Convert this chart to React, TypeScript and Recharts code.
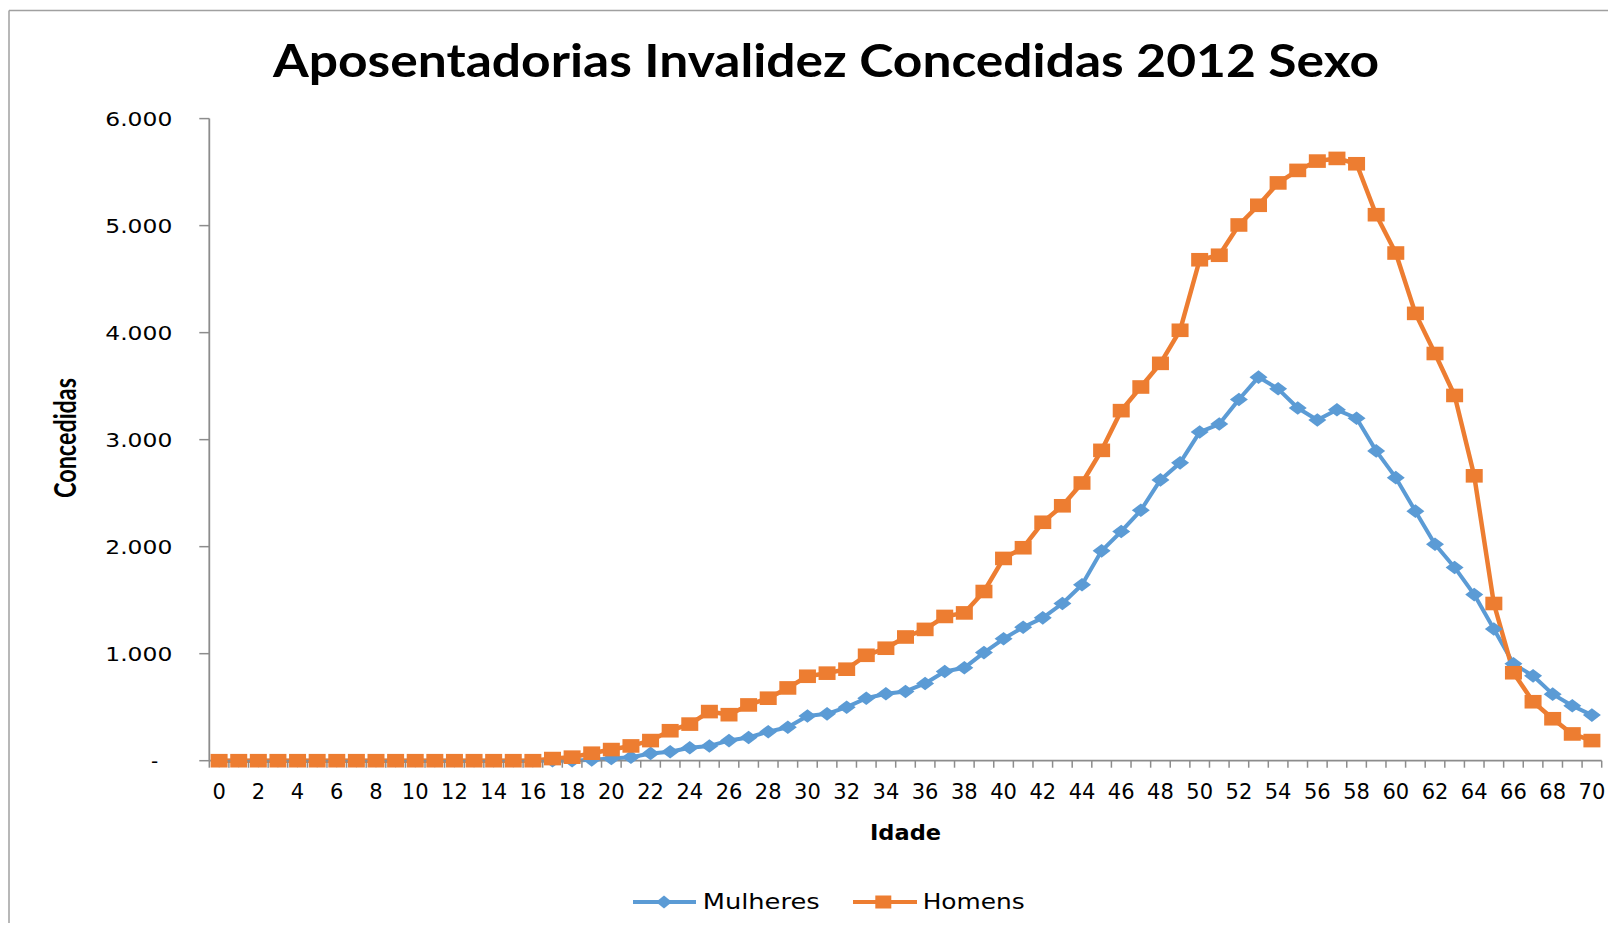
import React from 'react';
import { LineChart, Line, XAxis, YAxis } from 'recharts';

const AGES: number[] = Array.from({ length: 71 }, (_, i) => i);

const MULHERES: number[] = [
  0, 0, 0, 0, 0, 0, 0, 0, 0, 0,
  0, 0, 0, 0, 0, 0, 0, 0, 0, 8,
  20, 33, 68, 83, 121, 138, 188, 217, 271, 313,
  417, 438, 500, 584, 626, 647, 722, 834, 868, 1010,
  1139, 1247, 1335, 1469, 1644, 1961, 2142, 2340, 2624, 2783,
  3071, 3146, 3375, 3584, 3475, 3296, 3183, 3279, 3200, 2895,
  2645, 2332, 2023, 1806, 1552, 1231, 905, 793, 622, 513,
  426,
];

const HOMENS: number[] = [
  0, 0, 0, 0, 0, 0, 0, 0, 0, 0,
  0, 0, 0, 0, 0, 0, 0, 20, 33, 70,
  104, 138, 188, 280, 342, 459, 430, 521, 584, 680,
  789, 818, 855, 985, 1051, 1156, 1227, 1348, 1381, 1581,
  1890, 1990, 2228, 2382, 2595, 2900, 3271, 3492, 3713, 4022,
  4681, 4723, 5006, 5190, 5399, 5516, 5603, 5628, 5578, 5102,
  4744, 4180, 3805, 3413, 2662, 1469, 822, 551, 392, 250,
  188,
];

const Y_TICKS: number[] = [0, 1000, 2000, 3000, 4000, 5000, 6000];

const TITLE = 'Aposentadorias Invalidez Concedidas 2012 Sexo';
const X_LABEL = 'Idade';
const Y_LABEL = 'Concedidas';
const SERIES_NAMES = ['Mulheres', 'Homens'];

const BLUE = '#5B9BD5';
const ORANGE = '#ED7D31';
const AXIS = '#8c8c8c';

const data = AGES.map((a, i) => ({ age: a, mulheres: MULHERES[i], homens: HOMENS[i] }));

const W = 1600;
const H = 915;
const OVERLAY_H = 925;
const PLOT_LEFT = 201.3;
const PLOT_RIGHT = 1593.7;
const PLOT_TOP = 110.6;
const PLOT_BOTTOM = 752.7;
const BAND = (PLOT_RIGHT - PLOT_LEFT) / AGES.length;

const fmt = (v: number) => (v === 0 ? '-' : v.toLocaleString('de-DE'));

const XTick = (props: any) => {
  const { x, y, payload } = props;
  const index = props.index ?? payload.index;
  const half = BAND / 2;
  return (
    <g>
      <line x1={x - half} x2={x - half} y1={y} y2={y + 7} stroke={AXIS} strokeWidth={1.5} />
      {index === AGES.length - 1 && (
        <line x1={x + half} x2={x + half} y1={y} y2={y + 7} stroke={AXIS} strokeWidth={1.5} />
      )}
      {index % 2 === 0 && (
        <text x={x} y={y + 38} textAnchor="middle" fontFamily="DejaVu Sans" fontSize={21} fill="#000">
          {payload.value}
        </text>
      )}
    </g>
  );
};

const YTick = (props: any) => {
  const { x, y, payload } = props;
  const label = fmt(payload.value);
  if (payload.value === 0) {
    return (
      <text x={x - 14} y={y + 7} textAnchor="end" fontFamily="DejaVu Sans" fontSize={20} fill="#000">
        {label}
      </text>
    );
  }
  return (
    <text
      x={x}
      y={y + 7}
      textAnchor="end"
      fontFamily="DejaVu Sans"
      fontSize={20}
      fill="#000"
      textLength={67}
      lengthAdjust="spacingAndGlyphs"
    >
      {label}
    </text>
  );
};

const Square = (props: any) => {
  const { cx, cy, index } = props;
  if (cx == null || cy == null) return <g key={`s${index}`} />;
  return <rect key={`s${index}`} x={cx - 8.5} y={cy - 6.8} width={17} height={13.6} fill={ORANGE} />;
};

const Diamond = (props: any) => {
  const { cx, cy, index } = props;
  if (cx == null || cy == null) return <g key={`d${index}`} />;
  const w = 9, h = 6.8;
  return (
    <polygon
      key={`d${index}`}
      points={`${cx - w},${cy} ${cx},${cy - h} ${cx + w},${cy} ${cx},${cy + h}`}
      fill={BLUE}
    />
  );
};

export default function App() {
  return (
    <div style={{ position: 'relative', width: W, height: H }}>
      <style>{`html, body { overflow: hidden; }`}</style>
      <LineChart
        width={W}
        height={H}
        data={data}
        margin={{ top: PLOT_TOP, right: W - PLOT_RIGHT, left: 0, bottom: H - PLOT_BOTTOM - 30 }}
      >
        <XAxis
          dataKey="age"
          type="category"
          interval={0}
          height={30}
          padding={{ left: BAND / 2, right: BAND / 2 }}
          axisLine={{ stroke: AXIS, strokeWidth: 1.8 }}
          tickLine={false}
          tickSize={0}
          tickMargin={0}
          tick={<XTick />}
        />
        <YAxis
          width={PLOT_LEFT}
          domain={[0, 6000]}
          ticks={Y_TICKS}
          interval={0}
          axisLine={{ stroke: AXIS, strokeWidth: 1.8 }}
          tickLine={{ stroke: AXIS, strokeWidth: 1.5 }}
          tickSize={10}
          tickMargin={27}
          tick={<YTick />}
        />
        <Line
          type="linear"
          dataKey="mulheres"
          name={SERIES_NAMES[0]}
          stroke={BLUE}
          strokeWidth={4}
          strokeLinejoin="round"
          dot={Diamond}
          activeDot={false}
          isAnimationActive={false}
        />
        <Line
          type="linear"
          dataKey="homens"
          name={SERIES_NAMES[1]}
          stroke={ORANGE}
          strokeWidth={4.5}
          strokeLinejoin="round"
          dot={Square}
          activeDot={false}
          isAnimationActive={false}
        />
      </LineChart>
      <svg
        width={W}
        height={OVERLAY_H}
        style={{ position: 'absolute', left: 0, top: 0, pointerEvents: 'none', overflow: 'hidden', display: 'block' }}
      >
        <line x1={1} x2={1} y1={2.5} y2={OVERLAY_H} stroke="#a0a0a0" strokeWidth={1.5} />
        <line x1={1} x2={W} y1={2.5} y2={2.5} stroke="#a0a0a0" strokeWidth={1.5} />
        <text
          x={818}
          y={68.7}
          textAnchor="middle"
          fontFamily="Lato"
          fontWeight="bold"
          fontSize={45}
          fill="#000"
          textLength={1106}
          lengthAdjust="spacingAndGlyphs"
        >
          {TITLE}
        </text>
        <text
          x={(PLOT_LEFT + PLOT_RIGHT) / 2}
          y={832}
          textAnchor="middle"
          fontFamily="DejaVu Sans"
          fontWeight="bold"
          fontSize={21.5}
          fill="#000"
          textLength={71}
          lengthAdjust="spacingAndGlyphs"
        >
          {X_LABEL}
        </text>
        <g transform="translate(68,430) scale(1.23,1) rotate(-90)">
          <text
            x={0}
            y={0}
            textAnchor="middle"
            fontFamily="Lato"
            fontWeight="bold"
            fontSize={24}
            fill="#000"
            textLength={120}
            lengthAdjust="spacingAndGlyphs"
          >
            {Y_LABEL}
          </text>
        </g>
        <g>
          <line x1={625} x2={688} y1={894} y2={894} stroke={BLUE} strokeWidth={4} />
          <polygon points={`${648},894 ${656},887.5 ${664},894 ${656},900.5`} fill={BLUE} />
          <text
            x={694.7}
            y={901.3}
            fontFamily="DejaVu Sans"
            fontSize={21}
            fill="#000"
            textLength={117}
            lengthAdjust="spacingAndGlyphs"
          >
            {SERIES_NAMES[0]}
          </text>
          <line x1={845} x2={909} y1={894} y2={894} stroke={ORANGE} strokeWidth={4} />
          <rect x={867.3} y={887.5} width={16} height={13} fill={ORANGE} />
          <text
            x={914.7}
            y={901.3}
            fontFamily="DejaVu Sans"
            fontSize={21}
            fill="#000"
            textLength={102}
            lengthAdjust="spacingAndGlyphs"
          >
            {SERIES_NAMES[1]}
          </text>
        </g>
      </svg>
    </div>
  );
}
